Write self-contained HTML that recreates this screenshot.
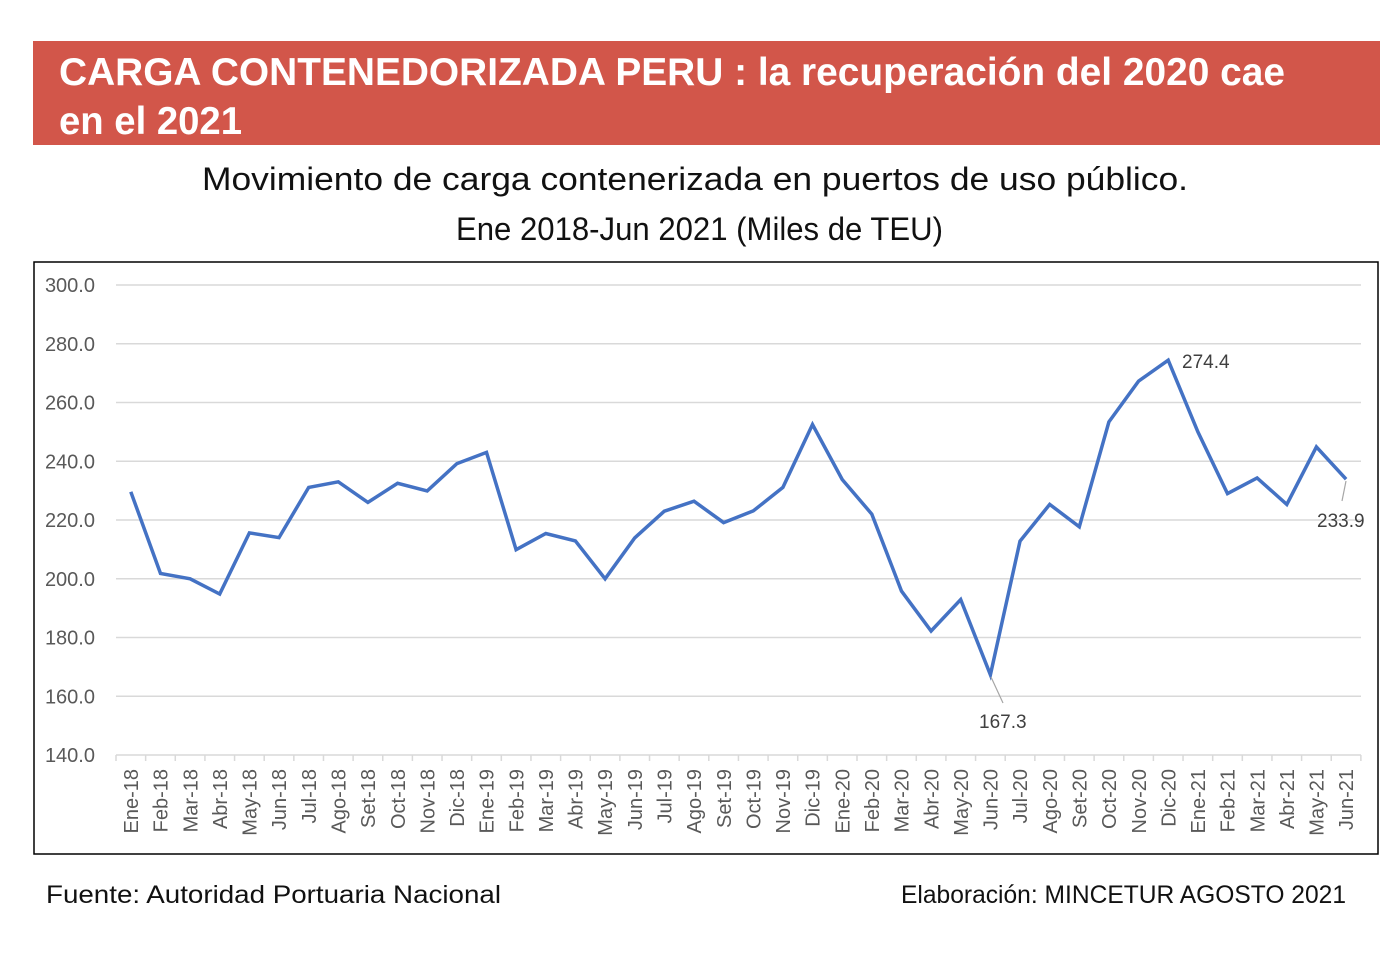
<!DOCTYPE html>
<html>
<head>
<meta charset="utf-8">
<style>
  html, body { margin: 0; padding: 0; background: #fff; }
  svg { display: block; }
</style>
</head>
<body>
<svg width="1397" height="960" viewBox="0 0 1397 960" xmlns="http://www.w3.org/2000/svg">
  <rect x="0" y="0" width="1397" height="960" fill="#ffffff"/>
  <!-- Header -->
  <rect x="33" y="41" width="1347" height="104" fill="#d2564a"/>
  <text x="59" y="85" font-family="'Liberation Sans', sans-serif" font-weight="bold" font-size="39" fill="#ffffff" textLength="1226" lengthAdjust="spacingAndGlyphs">CARGA CONTENEDORIZADA PERU : la recuperación del 2020 cae</text>
  <text x="59" y="134" font-family="'Liberation Sans', sans-serif" font-weight="bold" font-size="39" fill="#ffffff" textLength="183" lengthAdjust="spacingAndGlyphs">en el 2021</text>

  <!-- Subtitle -->
  <text x="202" y="190" font-family="'Liberation Sans', sans-serif" font-size="32" fill="#111" textLength="986" lengthAdjust="spacingAndGlyphs">Movimiento de carga contenerizada en puertos de uso público.</text>
  <text x="456" y="240" font-family="'Liberation Sans', sans-serif" font-size="32" fill="#111" textLength="487" lengthAdjust="spacingAndGlyphs">Ene 2018-Jun 2021 (Miles de TEU)</text>

  <!-- Chart border -->
  <rect x="34" y="262" width="1344" height="592" fill="none" stroke="#000" stroke-width="1.5"/>

  <!-- Gridlines -->
  <g stroke="#d9d9d9" stroke-width="1.5">
    <line x1="116" y1="285" x2="1361" y2="285"/>
    <line x1="116" y1="343.75" x2="1361" y2="343.75"/>
    <line x1="116" y1="402.5" x2="1361" y2="402.5"/>
    <line x1="116" y1="461.25" x2="1361" y2="461.25"/>
    <line x1="116" y1="520" x2="1361" y2="520"/>
    <line x1="116" y1="578.75" x2="1361" y2="578.75"/>
    <line x1="116" y1="637.5" x2="1361" y2="637.5"/>
    <line x1="116" y1="696.25" x2="1361" y2="696.25"/>
    <line x1="116" y1="755" x2="1361" y2="755"/>
  </g>

  <!-- Y labels -->
  <g font-family="'Liberation Sans', sans-serif" font-size="20" fill="#595959" text-anchor="end">
    <text x="95" y="292">300.0</text>
    <text x="95" y="350.75">280.0</text>
    <text x="95" y="409.5">260.0</text>
    <text x="95" y="468.25">240.0</text>
    <text x="95" y="527">220.0</text>
    <text x="95" y="585.75">200.0</text>
    <text x="95" y="644.5">180.0</text>
    <text x="95" y="703.25">160.0</text>
    <text x="95" y="762">140.0</text>
  </g>

  <!-- Ticks -->
  <g stroke="#d9d9d9" stroke-width="1.5" id="ticks">
    <line x1="116" y1="755" x2="116" y2="761"/><line x1="145.64" y1="755" x2="145.64" y2="761"/><line x1="175.28" y1="755" x2="175.28" y2="761"/><line x1="204.92" y1="755" x2="204.92" y2="761"/><line x1="234.56" y1="755" x2="234.56" y2="761"/><line x1="264.2" y1="755" x2="264.2" y2="761"/><line x1="293.84" y1="755" x2="293.84" y2="761"/><line x1="323.48" y1="755" x2="323.48" y2="761"/><line x1="353.12" y1="755" x2="353.12" y2="761"/><line x1="382.76" y1="755" x2="382.76" y2="761"/><line x1="412.4" y1="755" x2="412.4" y2="761"/><line x1="442.04" y1="755" x2="442.04" y2="761"/><line x1="471.68" y1="755" x2="471.68" y2="761"/><line x1="501.32" y1="755" x2="501.32" y2="761"/><line x1="530.96" y1="755" x2="530.96" y2="761"/><line x1="560.6" y1="755" x2="560.6" y2="761"/><line x1="590.24" y1="755" x2="590.24" y2="761"/><line x1="619.88" y1="755" x2="619.88" y2="761"/><line x1="649.52" y1="755" x2="649.52" y2="761"/><line x1="679.16" y1="755" x2="679.16" y2="761"/><line x1="708.8" y1="755" x2="708.8" y2="761"/><line x1="738.44" y1="755" x2="738.44" y2="761"/><line x1="768.08" y1="755" x2="768.08" y2="761"/><line x1="797.72" y1="755" x2="797.72" y2="761"/><line x1="827.36" y1="755" x2="827.36" y2="761"/><line x1="857" y1="755" x2="857" y2="761"/><line x1="886.64" y1="755" x2="886.64" y2="761"/><line x1="916.28" y1="755" x2="916.28" y2="761"/><line x1="945.92" y1="755" x2="945.92" y2="761"/><line x1="975.56" y1="755" x2="975.56" y2="761"/><line x1="1005.2" y1="755" x2="1005.2" y2="761"/><line x1="1034.84" y1="755" x2="1034.84" y2="761"/><line x1="1064.48" y1="755" x2="1064.48" y2="761"/><line x1="1094.12" y1="755" x2="1094.12" y2="761"/><line x1="1123.76" y1="755" x2="1123.76" y2="761"/><line x1="1153.4" y1="755" x2="1153.4" y2="761"/><line x1="1183.04" y1="755" x2="1183.04" y2="761"/><line x1="1212.68" y1="755" x2="1212.68" y2="761"/><line x1="1242.32" y1="755" x2="1242.32" y2="761"/><line x1="1271.96" y1="755" x2="1271.96" y2="761"/><line x1="1301.6" y1="755" x2="1301.6" y2="761"/><line x1="1331.24" y1="755" x2="1331.24" y2="761"/><line x1="1360.88" y1="755" x2="1360.88" y2="761"/>
  </g>

  <!-- X labels (rotated) -->
  <g font-family="'Liberation Sans', sans-serif" font-size="20" fill="#595959" text-anchor="end">
    <text transform="translate(138,769) rotate(-90)">Ene-18</text>
    <text transform="translate(167.6,769) rotate(-90)">Feb-18</text>
    <text transform="translate(197.3,769) rotate(-90)">Mar-18</text>
    <text transform="translate(226.9,769) rotate(-90)">Abr-18</text>
    <text transform="translate(256.6,769) rotate(-90)">May-18</text>
    <text transform="translate(286.2,769) rotate(-90)">Jun-18</text>
    <text transform="translate(315.8,769) rotate(-90)">Jul-18</text>
    <text transform="translate(345.5,769) rotate(-90)">Ago-18</text>
    <text transform="translate(375.1,769) rotate(-90)">Set-18</text>
    <text transform="translate(404.8,769) rotate(-90)">Oct-18</text>
    <text transform="translate(434.4,769) rotate(-90)">Nov-18</text>
    <text transform="translate(464,769) rotate(-90)">Dic-18</text>
    <text transform="translate(493.7,769) rotate(-90)">Ene-19</text>
    <text transform="translate(523.3,769) rotate(-90)">Feb-19</text>
    <text transform="translate(553,769) rotate(-90)">Mar-19</text>
    <text transform="translate(582.6,769) rotate(-90)">Abr-19</text>
    <text transform="translate(612.2,769) rotate(-90)">May-19</text>
    <text transform="translate(641.9,769) rotate(-90)">Jun-19</text>
    <text transform="translate(671.5,769) rotate(-90)">Jul-19</text>
    <text transform="translate(701.2,769) rotate(-90)">Ago-19</text>
    <text transform="translate(730.8,769) rotate(-90)">Set-19</text>
    <text transform="translate(760.4,769) rotate(-90)">Oct-19</text>
    <text transform="translate(790.1,769) rotate(-90)">Nov-19</text>
    <text transform="translate(819.7,769) rotate(-90)">Dic-19</text>
    <text transform="translate(849.4,769) rotate(-90)">Ene-20</text>
    <text transform="translate(879,769) rotate(-90)">Feb-20</text>
    <text transform="translate(908.6,769) rotate(-90)">Mar-20</text>
    <text transform="translate(938.3,769) rotate(-90)">Abr-20</text>
    <text transform="translate(967.9,769) rotate(-90)">May-20</text>
    <text transform="translate(997.6,769) rotate(-90)">Jun-20</text>
    <text transform="translate(1027.2,769) rotate(-90)">Jul-20</text>
    <text transform="translate(1056.8,769) rotate(-90)">Ago-20</text>
    <text transform="translate(1086.5,769) rotate(-90)">Set-20</text>
    <text transform="translate(1116.1,769) rotate(-90)">Oct-20</text>
    <text transform="translate(1145.8,769) rotate(-90)">Nov-20</text>
    <text transform="translate(1175.4,769) rotate(-90)">Dic-20</text>
    <text transform="translate(1205,769) rotate(-90)">Ene-21</text>
    <text transform="translate(1234.7,769) rotate(-90)">Feb-21</text>
    <text transform="translate(1264.3,769) rotate(-90)">Mar-21</text>
    <text transform="translate(1294,769) rotate(-90)">Abr-21</text>
    <text transform="translate(1323.6,769) rotate(-90)">May-21</text>
    <text transform="translate(1353.2,769) rotate(-90)">Jun-21</text>
  </g>

  <!-- Data line -->
  <polyline fill="none" stroke="#4472c4" stroke-width="3.5" stroke-linejoin="miter" stroke-linecap="butt"
    points="130.8,491.8 160.5,573.5 190.1,578.8 219.7,594.0 249.4,532.9 279.0,537.6 308.7,487.4 338.3,481.8 367.9,502.4 397.6,483.3 427.2,490.9 456.9,463.6 486.5,452.4 516.1,549.7 545.8,533.5 575.4,540.9 605.1,578.8 634.7,537.9 664.3,511.2 694.0,501.2 723.6,522.6 753.3,510.9 782.9,487.4 812.5,424.5 842.2,479.5 871.8,514.1 901.5,591.1 931.1,631.0 960.7,599.6 990.4,674.8 1020.0,541.2 1049.7,504.4 1079.3,526.8 1108.9,421.9 1138.6,381.1 1168.2,360.2 1197.9,431.9 1227.5,493.6 1257.1,478.0 1286.8,504.4 1316.4,446.9 1346.1,479.2"/>

  <!-- Leader lines -->
  <g stroke="#a6a6a6" stroke-width="1.2">
    <line x1="991" y1="677" x2="1003" y2="703"/>
    <line x1="1346" y1="481" x2="1342" y2="501"/>
  </g>

  <!-- Data labels -->
  <g font-family="'Liberation Sans', sans-serif" font-size="19" fill="#404040">
    <text x="1182" y="368">274.4</text>
    <text x="1317" y="527">233.9</text>
    <text x="979" y="728">167.3</text>
  </g>

  <!-- Footer -->
  <text x="46" y="903" font-family="'Liberation Sans', sans-serif" font-size="25" fill="#111" textLength="455" lengthAdjust="spacingAndGlyphs">Fuente: Autoridad Portuaria Nacional</text>
  <text x="901" y="903" font-family="'Liberation Sans', sans-serif" font-size="25" fill="#111" textLength="445" lengthAdjust="spacingAndGlyphs">Elaboración: MINCETUR AGOSTO 2021</text>
</svg>
</body>
</html>
